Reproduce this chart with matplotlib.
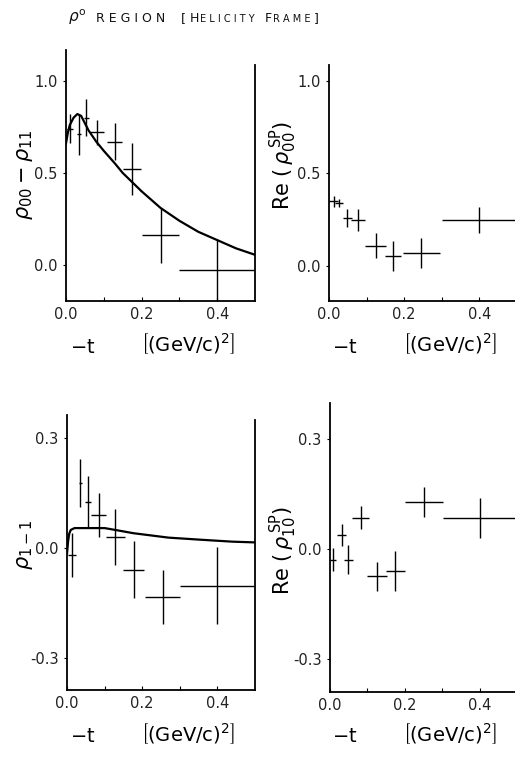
import matplotlib.pyplot as plt

t_p1 = [0.010, 0.035, 0.054, 0.082, 0.129, 0.175, 0.250, 0.400]
tx_p1 = [0.008, 0.006, 0.006, 0.018, 0.020, 0.023, 0.050, 0.100]
r00_r11 = [0.74, 0.71, 0.80, 0.72, 0.67, 0.52, 0.16, -0.03]
r00_r11_err = [0.08, 0.11, 0.10, 0.07, 0.10, 0.14, 0.15, 0.17]

# model curve for rho00 - rho11
curve1_t = [0.0, 0.005, 0.01, 0.02, 0.03, 0.04, 0.05, 0.06, 0.08, 0.10, 0.13,
            0.15, 0.18, 0.20, 0.25, 0.30, 0.35, 0.40, 0.45, 0.50]
curve1_v = [0.66, 0.72, 0.76, 0.80, 0.82, 0.81, 0.77, 0.73, 0.67, 0.62, 0.55,
            0.50, 0.44, 0.40, 0.31, 0.24, 0.18, 0.135, 0.09, 0.055]

t_p2 = [0.012, 0.027, 0.049, 0.077, 0.124, 0.171, 0.246, 0.400]
tx_p2 = [0.012, 0.011, 0.011, 0.018, 0.027, 0.021, 0.049, 0.100]
re_sp00 = [0.35, 0.34, 0.26, 0.25, 0.11, 0.054, 0.07, 0.25]
re_sp00_err = [0.03, 0.02, 0.05, 0.06, 0.07, 0.08, 0.08, 0.07]

t_p3 = [0.013, 0.035, 0.055, 0.084, 0.128, 0.177, 0.254, 0.400]
tx_p3 = [0.010, 0.004, 0.008, 0.019, 0.025, 0.027, 0.046, 0.100]
r1m1 = [-0.018, 0.178, 0.126, 0.090, 0.030, -0.058, -0.133, -0.102]
r1m1_err = [0.060, 0.065, 0.070, 0.060, 0.076, 0.078, 0.073, 0.105]

curve3_t = [0.0, 0.003, 0.006, 0.01, 0.02, 0.05, 0.10, 0.128, 0.177, 0.27,
            0.36, 0.44, 0.50]
curve3_v = [-0.015, 0.02, 0.04, 0.05, 0.055, 0.055, 0.055, 0.05, 0.041, 0.029,
            0.023, 0.018, 0.016]

t_p4 = [0.009, 0.031, 0.049, 0.082, 0.126, 0.175, 0.251, 0.402]
tx_p4 = [0.008, 0.012, 0.012, 0.022, 0.027, 0.026, 0.050, 0.100]
re_sp10 = [-0.030, 0.038, -0.030, 0.084, -0.076, -0.061, 0.128, 0.084]
re_sp10_err = [0.032, 0.030, 0.039, 0.031, 0.039, 0.055, 0.041, 0.055]

W, H = 515, 764
fig = plt.figure(figsize=(W / 100, H / 100), dpi=100)


def make_ax(left, top, right, bottom, ylim, yticks, right_top=None):
    # pixel box -> figure fraction
    ax = fig.add_axes([left / W, 1 - bottom / H, (right - left) / W, (bottom - top) / H])
    ax.set_xlim(0, 0.5)
    ax.set_ylim(*ylim)
    ax.spines['top'].set_visible(False)
    if right_top is None:
        ax.spines['right'].set_visible(False)
    else:
        ax.spines['right'].set_bounds(ylim[0], right_top)
        ax.spines['right'].set_linewidth(1.3)
    ax.spines['left'].set_linewidth(1.3)
    ax.spines['bottom'].set_linewidth(1.3)
    ax.set_xticks([0.0, 0.1, 0.2, 0.3, 0.4])
    ax.set_xticklabels(['0.0', '', '0.2', '', '0.4'])
    ax.set_yticks(yticks)
    ax.set_yticklabels(['%.1f' % v for v in yticks])
    ax.tick_params(direction='in', length=3, width=0.8, labelsize=10.5, pad=4,
                   labelcolor='#222222')
    ax.tick_params(axis='y', direction='out', length=2)
    return ax


def draw_pts(ax, t, tx, v, err):
    ax.errorbar(t, v, xerr=tx, yerr=err, fmt='none', ecolor='black',
                elinewidth=1.0, capsize=0)


ax1 = make_ax(66, 50, 255, 301, (-0.196, 1.168), [0.0, 0.5, 1.0], right_top=1.087)
draw_pts(ax1, t_p1, tx_p1, r00_r11, r00_r11_err)
ax1.plot(curve1_t, curve1_v, color='black', lw=1.6)

ax2 = make_ax(329, 65, 517, 301, (-0.19, 1.087), [0.0, 0.5, 1.0])
draw_pts(ax2, t_p2, tx_p2, re_sp00, re_sp00_err)

ax3 = make_ax(67, 415, 255, 690, (-0.386, 0.363), [-0.3, 0.0, 0.3], right_top=0.35)
draw_pts(ax3, t_p3, tx_p3, r1m1, r1m1_err)
ax3.plot(curve3_t, curve3_v, color='black', lw=1.6)

ax4 = make_ax(330, 403, 517, 692, (-0.391, 0.397), [-0.3, 0.0, 0.3])
draw_pts(ax4, t_p4, tx_p4, re_sp10, re_sp10_err)

# y axis labels
lab = dict(fontsize=15, rotation=90, ha='center', va='center')
fig.text(25 / W, 1 - 175 / H, r'$\rho_{00}-\rho_{11}$', **lab)
fig.text(283 / W, 1 - 165 / H, r'Re $(\,\rho_{00}^{\,\mathrm{SP}})$', **lab)
fig.text(25 / W, 1 - 545 / H, r'$\rho_{1-1}$', **lab)
fig.text(283 / W, 1 - 550 / H, r'Re $(\,\rho_{10}^{\,\mathrm{SP}})$', **lab)

# x axis labels
for x0, y0 in [(83, 347), (345, 347), (83, 737), (345, 737)]:
    fig.text(x0 / W, 1 - y0 / H, r'$-$t', fontsize=14, ha='center', va='center')
    fig.text((x0 + 105) / W, 1 - (y0 - 3) / H, r'$\left[(\mathrm{GeV/c})^2\right]$',
             fontsize=14, ha='center', va='center')

# title in small caps style: pieces placed one after another
title_parts = [(r'$\rho^{\mathrm{o}}$', 11, 10), ('R E G I O N', 9, 15),
               ('[', 9, 4), ('H', 9, 1), ('E L I C I T Y', 7, 10),
               ('F', 9, 1), ('R A M E', 7, 4), (']', 9, 0)]
renderer = fig.canvas.get_renderer()
xpos = 68
for s, fs, gap in title_parts:
    t = fig.text(xpos / W, 1 - 22 / H, s, fontsize=fs, va='baseline', color='#111111')
    xpos += t.get_window_extent(renderer).width + gap

fig.savefig('out.png', dpi=100)
